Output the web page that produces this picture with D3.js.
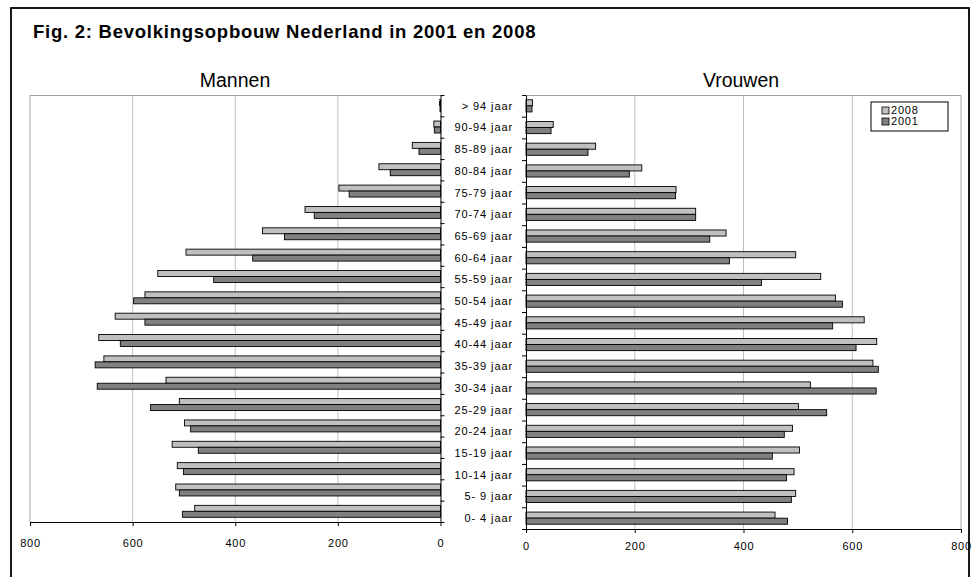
<!DOCTYPE html>
<html>
<head>
<meta charset="utf-8">
<script src="https://cdn.jsdelivr.net/npm/d3@7"></script>
<style>
  html, body { margin: 0; padding: 0; background: #fff; }
  svg { display: block; font-family: "Liberation Sans", Arial, sans-serif; }
</style>
</head>
<body>
<svg id="chart" width="976" height="577"></svg>
<script>
// Age groups, oldest at the top
const ages = ["> 94 jaar", "90-94 jaar", "85-89 jaar", "80-84 jaar", "75-79 jaar",
  "70-74 jaar", "65-69 jaar", "60-64 jaar", "55-59 jaar", "50-54 jaar",
  "45-49 jaar", "40-44 jaar", "35-39 jaar", "30-34 jaar", "25-29 jaar",
  "20-24 jaar", "15-19 jaar", "10-14 jaar", "5- 9 jaar", "0- 4 jaar"];

// Population in thousands
const men2008   = [2, 13, 55, 120, 198, 264, 347, 496, 551, 576, 634, 666, 656, 535, 509, 499, 523, 513, 516, 479];
const men2001   = [1, 12, 42, 98, 178, 246, 304, 366, 442, 598, 576, 624, 673, 669, 565, 487, 472, 501, 509, 503];
const women2008 = [12, 50, 128, 213, 276, 312, 368, 496, 542, 569, 622, 645, 638, 523, 501, 490, 503, 493, 496, 458];
const women2001 = [11, 46, 114, 190, 275, 312, 338, 374, 433, 582, 564, 607, 648, 644, 553, 475, 453, 479, 488, 481];

const years = ["2008", "2001"];
const xTicks = [0, 200, 400, 600, 800];
const colors = { "2008": "#c0c0c0", "2001": "#808080" };

const svg = d3.select("#chart");

// Outer frame
svg.append("rect")
  .attr("x", 11).attr("y", 8).attr("width", 958).attr("height", 600)
  .attr("fill", "none").attr("stroke", "#000").attr("stroke-width", 1.8);

svg.append("text")
  .attr("x", 33).attr("y", 38)
  .attr("font-size", 18.5).attr("font-weight", "bold").attr("letter-spacing", "0.75px")
  .text("Fig. 2: Bevolkingsopbouw Nederland in 2001 en 2008");

function panel(opts) {
  const { x0, x1, yTop, yBottom, series, title, titleX, mirrored } = opts;
  const g = svg.append("g");

  const x = d3.scaleLinear().domain([0, 800])
    .range(mirrored ? [x1, x0] : [x0, x1]);
  const zeroX = x(0);
  const y = d3.scaleBand().domain(ages).range([yTop, yBottom])
    .paddingInner(0.44).paddingOuter(0.22);
  const ySub = d3.scaleBand().domain(years).range([0, y.bandwidth()]);

  // Gridlines
  g.selectAll("line.grid").data([200, 400, 600]).join("line")
    .attr("class", "grid")
    .attr("x1", d => x(d)).attr("x2", d => x(d))
    .attr("y1", yTop).attr("y2", yBottom)
    .attr("stroke", "#c0c0c0").attr("stroke-width", 1);

  // Plot border (top and outer side)
  const outerX = mirrored ? x0 : x1;
  g.append("path")
    .attr("d", `M${zeroX},${yTop + 0.5}H${outerX}V${yBottom}`)
    .attr("fill", "none").attr("stroke", "#a0a0a0").attr("stroke-width", 1);

  // Bars
  const rows = ages.map((a, i) => ({ age: a, values: years.map((yr, k) => ({ year: yr, v: series[k][i] })) }));
  const grp = g.selectAll("g.row").data(rows).join("g")
    .attr("class", "row")
    .attr("transform", d => `translate(0,${y(d.age)})`);
  grp.selectAll("rect").data(d => d.values).join("rect")
    .attr("x", d => Math.min(x(d.v), zeroX))
    .attr("y", d => ySub(d.year))
    .attr("width", d => Math.abs(x(d.v) - zeroX))
    .attr("height", ySub.bandwidth())
    .attr("fill", d => colors[d.year])
    .attr("stroke", "#000").attr("stroke-width", 0.9);

  // Category axis (ticks between groups)
  const yLin = d3.scaleLinear().domain([0, ages.length]).range([yTop, yBottom]);
  const catAxis = (mirrored ? d3.axisRight(yLin) : d3.axisLeft(yLin))
    .tickValues(d3.range(ages.length + 1)).tickFormat("").tickSizeInner(4).tickSizeOuter(0);
  g.append("g").attr("transform", `translate(${zeroX},0)`).call(catAxis)
    .call(s => s.selectAll("path,line").attr("stroke", "#000"));

  // Value axis
  const valAxis = d3.axisBottom(x).tickValues(xTicks).tickSizeInner(4).tickSizeOuter(0)
    .tickFormat(d3.format("d")).tickPadding(mirrored ? 13 : 9);
  const ax = g.append("g").attr("transform", `translate(0,${yBottom})`).call(valAxis);
  ax.selectAll("path,line").attr("stroke", "#000");
  ax.selectAll("text").attr("font-size", 11).attr("letter-spacing", "0.8px")
    .attr("font-family", "'Liberation Sans', Arial, sans-serif").attr("fill", "#000");

  svg.append("text")
    .attr("x", titleX).attr("y", 87)
    .attr("text-anchor", "middle").attr("font-size", 19.5)
    .text(title);

  return { y };
}

panel({ x0: 30, x1: 440.5, yTop: 95, yBottom: 522, series: [men2008, men2001],
  title: "Mannen", titleX: 235, mirrored: true });
const right = panel({ x0: 526, x1: 961, yTop: 95, yBottom: 529, series: [women2008, women2001],
  title: "Vrouwen", titleX: 741, mirrored: false });

// Age labels between the two panels
svg.append("g").selectAll("text").data(ages).join("text")
  .attr("x", 513)
  .attr("y", d => right.y(d) + right.y.bandwidth() / 2)
  .attr("dy", "0.35em")
  .attr("text-anchor", "end")
  .attr("font-size", 11).attr("letter-spacing", "0.9px")
  .text(d => d);

// Legend
const leg = svg.append("g").attr("transform", "translate(871,102)");
leg.append("rect").attr("width", 77).attr("height", 29)
  .attr("fill", "#fff").attr("stroke", "#000").attr("stroke-width", 1);
leg.selectAll("g").data(years).join("g")
  .attr("transform", (d, i) => `translate(11,${5 + i * 11})`)
  .call(s => {
    s.append("rect").attr("width", 7).attr("height", 7)
      .attr("fill", d => colors[d]).attr("stroke", "#000").attr("stroke-width", 0.8);
    s.append("text").attr("x", 9).attr("y", 3.5).attr("dy", "0.35em")
      .attr("font-size", 11).attr("letter-spacing", "0.8px").text(d => d);
  });
</script>
</body>
</html>
